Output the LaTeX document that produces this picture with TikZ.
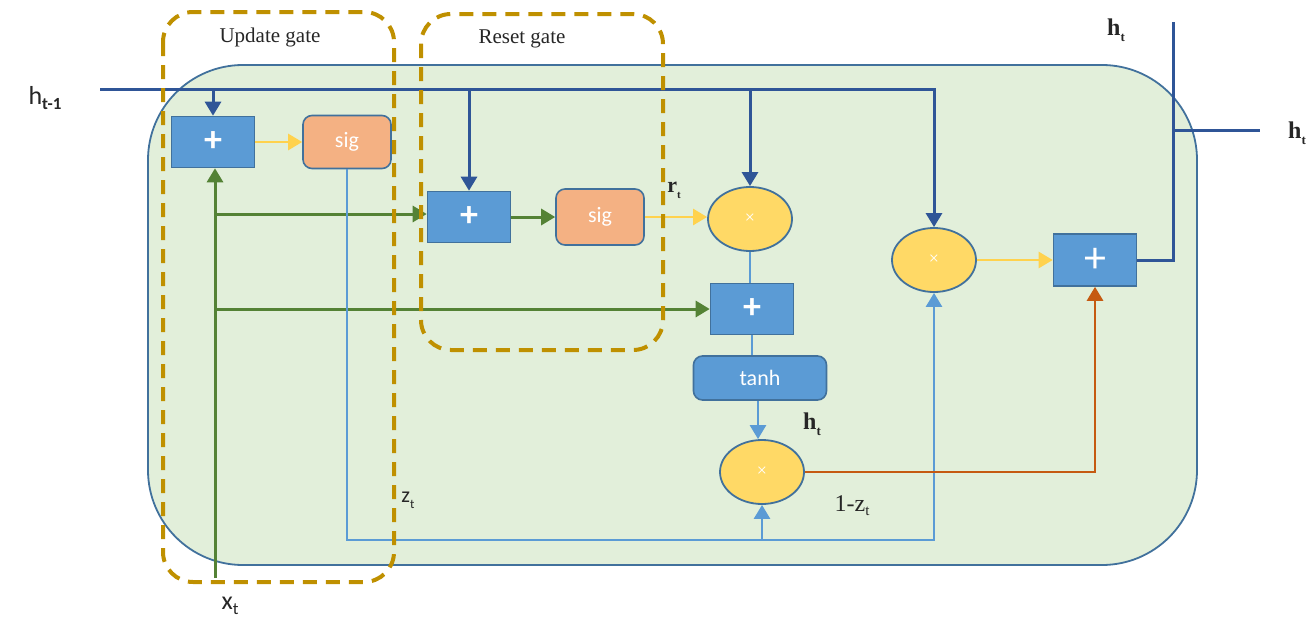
\documentclass[tikz,border=0pt]{standalone}
\usepackage{fontspec}
\setmainfont{Liberation Serif}
\newfontfamily\carl{Carlito}
\usetikzlibrary{arrows.meta,shapes.geometric}
\definecolor{cellfill}{HTML}{E2EFDA}
\definecolor{cellline}{HTML}{41719C}
\definecolor{boxfill}{HTML}{5B9BD5}
\definecolor{sigfill}{HTML}{F4B183}
\definecolor{mulfill}{HTML}{FFD966}
\definecolor{darkblue}{HTML}{2F5597}
\definecolor{gatecol}{HTML}{BF9000}
\definecolor{greenline}{HTML}{548235}
\definecolor{lightblue}{HTML}{5B9BD5}
\definecolor{yellowline}{HTML}{FFD24D}
\definecolor{orangeline}{HTML}{C55A11}
\begin{document}
\begin{tikzpicture}[x=1pt,y=-1pt,
  panel/.style={draw=cellline,line width=1.8pt,fill=cellfill,rounded corners=95pt},
  gatebox/.style={draw=gatecol,line width=4pt,dash pattern=on 14pt off 9pt,rounded corners=30pt},
  addbox/.style={draw=cellline,line width=1.6pt,fill=boxfill,minimum width=83pt,minimum height=51pt,inner sep=0pt,text=white},
  sigbox/.style={draw=cellline,line width=1.6pt,fill=sigfill,minimum width=88pt,minimum height=53pt,inner sep=0pt,rounded corners=9pt,text=white,font=\carl\fontsize{22}{22}\selectfont},
  tanhbox/.style={draw=cellline,line width=1.6pt,fill=boxfill,minimum width=133pt,minimum height=44pt,inner sep=0pt,rounded corners=9pt,text=white,font=\carl\fontsize{22}{22}\selectfont},
  mulnode/.style={ellipse,draw=cellline,line width=1.8pt,fill=mulfill,minimum width=84pt,minimum height=64pt,inner sep=0pt,text=white,font=\fontsize{18}{18}\selectfont},
  tip/.style={-{Triangle[length=14pt,width=16pt]}},
  hline/.style={draw=darkblue,line width=3pt},
  gline/.style={draw=greenline,line width=3pt},
  bline/.style={draw=lightblue,line width=2.6pt},
  yline/.style={draw=yellowline,line width=2.6pt},
  oline/.style={draw=orangeline,line width=2.8pt},
  lbl/.style={inner sep=0pt,text=black!85},
]
\useasboundingbox (0,0) rectangle (1314,629);

% cell body
\draw[panel] (148,65) rectangle (1197,565);

% processing blocks
\node[addbox,font=\carl\bfseries\fontsize{36}{36}\selectfont] (p1) at (213,142) {+};
\node[sigbox] (s1) at (347,142) {sig};
\node[addbox,font=\carl\bfseries\fontsize{36}{36}\selectfont] (p2) at (469,217) {+};
\node[sigbox,minimum height=56pt] (s2) at (600,217) {sig};
\node[mulnode] (m1) at (750,219) {×};
\node[addbox,font=\carl\bfseries\fontsize{36}{36}\selectfont] (p3) at (752,309) {+};
\node[tanhbox] (th) at (760,378) {tanh};
\node[mulnode] (m3) at (762,472) {×};
\node[mulnode] (m2) at (934,260) {×};
\node[addbox,minimum height=52pt,font=\carl\fontsize{44}{44}\selectfont] (p4) at (1095,260) {+};

% helper points
\coordinate (hin) at (100,89);
\coordinate (xin) at (215,578);
\coordinate (zrow) at (0,540);
\coordinate (otop) at (1173,22);
\coordinate (oright) at (1260,130);

% previous hidden state
\draw[hline,tip] (hin) -| (m2.north);
\draw[hline,tip] (p1.north |- hin) -- (p1.north);
\draw[hline,tip] (p2.north |- hin) -- (p2.north);
\draw[hline,tip] (m1.north |- hin) -- (m1.north);

% input
\draw[gline,tip] (xin) -- (xin |- p1.south);
\draw[gline,tip] (xin |- 0,214) -- (p2.west |- 0,214);
\draw[gline,tip] (xin |- p3.west) -- (p3.west);
\draw[gline,tip] (p2.east) -- (s2.west);

% gate outputs
\draw[yline,tip] (p1.east) -- (s1.west);
\draw[yline,tip] (s2.east) -- (s2.east -| m1.west);
\draw[yline,tip] (m2.east) -- (p4.west);

% candidate path
\draw[bline] (m1.south) -- (m1.south |- p3.north);
\draw[bline] (p3.south) -- (p3.south |- th.north);
\draw[bline,tip] (th.south -| 758,0) -- (758,0 |- m3.north);

% update gate signal
\draw[bline,tip] (s1.south) |- (m2.south |- zrow) -- (m2.south);
\draw[bline,tip] (m3.south |- zrow) -- (m3.south);

% into the final sum
\draw[oline,tip] (m3.east) -| (p4.south);

% output
\draw[hline] (p4.east) -| (otop);
\draw[hline] (otop |- oright) -- (oright);

% gate outlines
\draw[gatebox] (163,12) rectangle (394,582);
\draw[gatebox] (421,14) rectangle (663,350);

% labels
\node[lbl,font=\fontsize{21}{21}\selectfont] (lu) at (270,37) {Update gate};
\node[lbl,font=\fontsize{21}{21}\selectfont] (lr) at (522,39) {Reset gate};
\node[lbl,font=\carl\fontsize{26}{26}\selectfont] (lh) at (45,98) {h\raisebox{-5pt}{\fontsize{17}{17}\selectfont\bfseries t-1}};
\node[lbl,font=\carl\fontsize{26}{26}\selectfont] (lx) at (230,606) {x\raisebox{-5pt}{\fontsize{17}{17}\selectfont t}};
\node[lbl,font=\carl\fontsize{22}{22}\selectfont] (lz) at (408,500) {z\raisebox{-6pt}{\fontsize{13}{13}\selectfont t}};
\node[lbl,font=\bfseries\fontsize{22}{22}\selectfont] (lrt) at (674,190) {r\raisebox{-6pt}{\fontsize{11}{11}\selectfont t}};
\node[lbl,font=\bfseries\fontsize{24}{24}\selectfont] (lht) at (812,424) {h\raisebox{-6pt}{\fontsize{13}{13}\selectfont t}};
\node[lbl,font=\fontsize{24}{24}\selectfont] (lzz) at (852,506) {1-z\raisebox{-4pt}{\fontsize{15}{15}\selectfont t}};
\node[lbl,font=\bfseries\fontsize{24}{24}\selectfont] (lo1) at (1116,30) {h\raisebox{-6pt}{\fontsize{13}{13}\selectfont t}};
\node[lbl,font=\bfseries\fontsize{24}{24}\selectfont] (lo2) at (1297,133) {h\raisebox{-6pt}{\fontsize{13}{13}\selectfont t}};
\end{tikzpicture}
\end{document}
